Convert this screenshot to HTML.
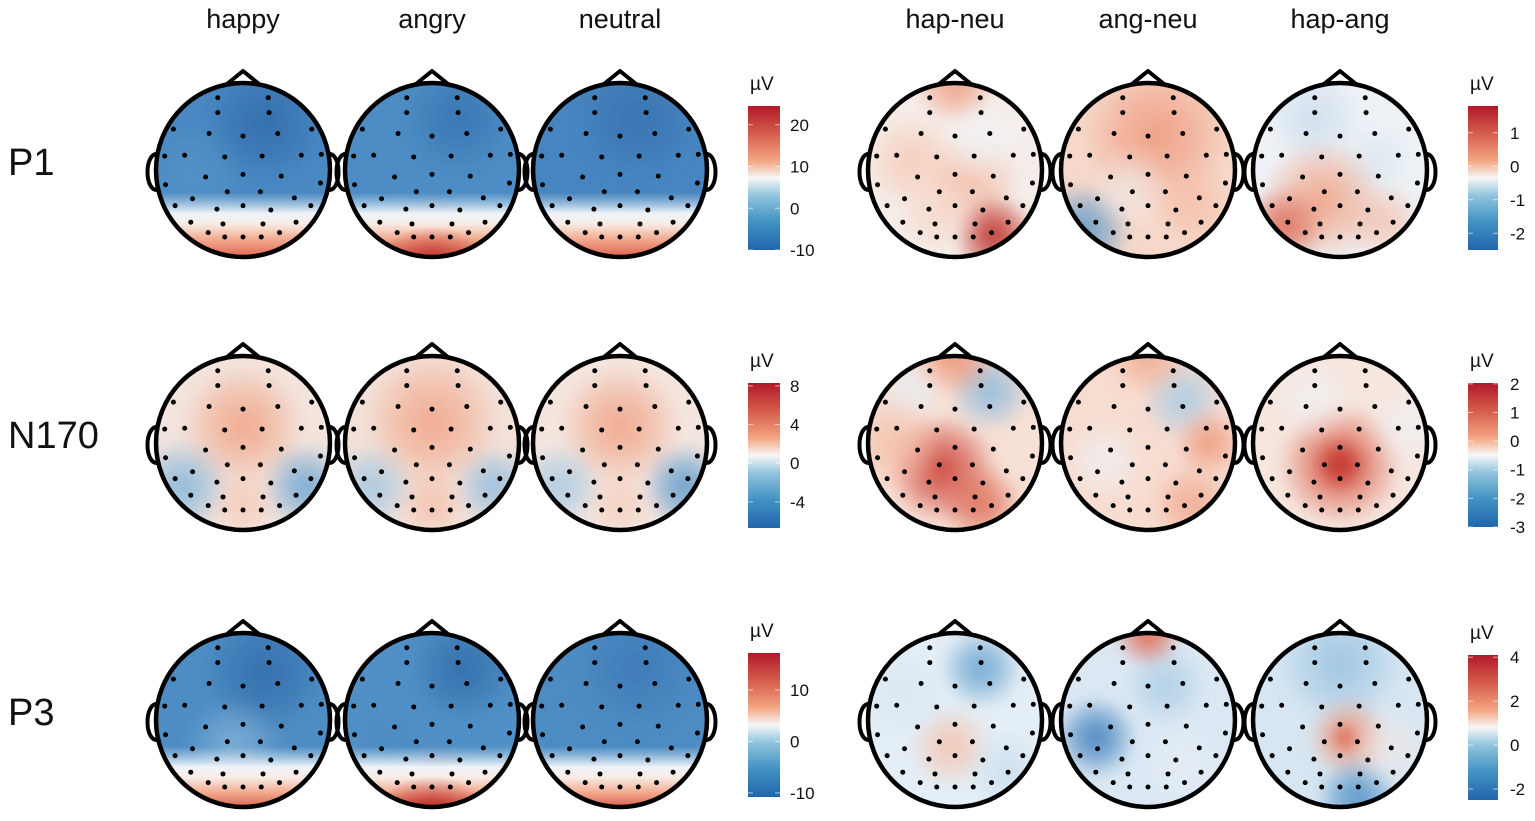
<!DOCTYPE html>
<html><head><meta charset="utf-8">
<style>
html,body{margin:0;padding:0;background:#fff;}
svg{display:block;font-family:"Liberation Sans",Arial,sans-serif;}
</style></head>
<body>
<svg id="fig" width="1535" height="821" viewBox="0 0 1535 821">
<defs>
<linearGradient id="rdbu" x1="0" y1="1" x2="0" y2="0">
<stop offset="0" stop-color="#2166ac"/><stop offset="0.2" stop-color="#4393c3"/>
<stop offset="0.38" stop-color="#92c5de"/><stop offset="0.5" stop-color="#f7f7f7"/>
<stop offset="0.62" stop-color="#f4a582"/><stop offset="0.8" stop-color="#d6604d"/>
<stop offset="1" stop-color="#b2182b"/>
</linearGradient>
<filter id="blur" x="-20%" y="-20%" width="140%" height="140%"><feGaussianBlur stdDeviation="6"/></filter>
</defs>
<g id="labels"></g>
<g id="heads"></g>
<g id="bars"></g>
</svg>
<script>
const NS="http://www.w3.org/2000/svg";
const colNames=["happy","angry","neutral","hap-neu","ang-neu","hap-ang"];
const colX=[243,432,620,955,1148,1340];
const rowNames=["P1","N170","P3"];
const rowY=[170,443,720];
const R=87;
const elecX=[-0.29,0.29,-0.29,0.30,-0.80,-0.39,0,0.40,0.79,-0.90,-0.67,-0.21,0.22,0.67,0.90,-0.43,0,0.44,-0.89,0.89,-0.18,0.20,-0.58,0.59,-0.78,0,0.78,-0.30,0.32,-0.60,-0.23,0.23,0.61,-0.40,-0.21,0,0.21,0.42];
const elecY=[-0.83,-0.83,-0.66,-0.66,-0.47,-0.42,-0.39,-0.42,-0.47,-0.16,-0.17,-0.15,-0.16,-0.17,-0.18,0.08,0.05,0.07,0.17,0.15,0.25,0.25,0.33,0.32,0.41,0.41,0.41,0.45,0.46,0.60,0.62,0.62,0.60,0.72,0.77,0.77,0.77,0.72];
const maps=[
 [ {base:"#4a88c2",band:[0.58,"#e0664f"],blobs:[[0.25,-0.55,0.45,"#2f6aa8",0.8],[-0.6,0.1,0.4,"#5b9acb",0.5]]},
   {base:"#4d8cc4",band:[0.58,"#dc5e4b"],blobs:[[0.3,-0.6,0.4,"#336fad",0.7],[0,0.95,0.35,"#c0332e",0.8]]},
   {base:"#4785c0",band:[0.58,"#de634e"],blobs:[[0.2,-0.6,0.45,"#356eab",0.7]]},
   {base:"#f5ede9",blobs:[[-0.5,-0.1,0.35,"#f6c7b2",0.8],[0.2,0.1,0.35,"#f3b39a",0.8],[0.45,0.75,0.3,"#c23a33",1],[-0.2,0.5,0.3,"#f7d1c0",0.7],[0,-1,0.3,"#ee9a7f",0.9],[0.3,-0.3,0.3,"#f0f4f8",0.8]]},
   {base:"#f6d8ca",blobs:[[0.1,-0.4,0.55,"#ef9c80",0.9],[-0.75,0.7,0.35,"#5b98c9",0.9],[0.5,0.4,0.3,"#f4b9a0",0.7],[-0.2,0.2,0.3,"#eef2f6",0.6]]},
   {base:"#eef2f6",blobs:[[-0.3,-0.6,0.35,"#c9dcec",0.8],[0.4,-0.1,0.3,"#d8e6f0",0.7],[-0.2,0.35,0.45,"#f0a285",0.9],[-0.65,0.65,0.3,"#dd6b55",0.9],[0.5,0.6,0.3,"#f3b7a0",0.7]]} ],
 [ {base:"#f3e4dd",blobs:[[0,-0.2,0.45,"#f0a587",0.9],[-0.7,0.5,0.35,"#86b6d9",0.9],[0.72,0.5,0.32,"#6ea6d2",0.9],[0,0.7,0.25,"#f6c2ab",0.7]]},
   {base:"#f3e1d8",blobs:[[0,-0.25,0.5,"#f1a689",0.9],[-0.7,0.5,0.32,"#a4c8e2",0.9],[0.72,0.5,0.3,"#94bedf",0.9],[0,0.7,0.25,"#f4b8a0",0.7]]},
   {base:"#f4e6df",blobs:[[0,-0.2,0.45,"#f0a487",0.9],[-0.7,0.5,0.32,"#a8cae3",0.9],[0.75,0.5,0.32,"#5d9acb",0.9],[0,0.7,0.25,"#f6c3ad",0.6]]},
   {base:"#f7e0d5",blobs:[[-0.15,0.3,0.4,"#cf4d42",1],[0.3,0.7,0.3,"#de6d56",0.9],[0.4,-0.6,0.3,"#8dbadd",0.9],[-0.5,-0.6,0.25,"#e7eff6",0.8],[0,-1,0.3,"#ec9173",0.9],[-0.7,0,0.35,"#f4bda5",0.8]]},
   {base:"#f7dcd0",blobs:[[0.4,-0.5,0.3,"#a9cce4",0.9],[-0.5,0.2,0.3,"#eef2f6",0.8],[0.7,0,0.25,"#ef9a7d",0.9],[0.5,0.7,0.3,"#f0a388",0.8],[0,-1,0.3,"#f0a488",0.8]]},
   {base:"#f6e6de",blobs:[[0,0.25,0.45,"#dc6652",1],[0,0.25,0.2,"#c1352f",1],[-0.3,-0.5,0.3,"#eef2f6",0.7],[0.8,-0.2,0.3,"#eef2f6",0.7]]} ],
 [ {base:"#4e8dc4",band:[0.62,"#de664f"],blobs:[[0.25,-0.55,0.45,"#2f6aa8",0.8],[-0.1,0.3,0.35,"#a9cbe3",0.5]]},
   {base:"#5090c6",band:[0.62,"#d4533f"],blobs:[[0.35,-0.6,0.4,"#2f6aa8",0.8],[0,0.95,0.35,"#b8282c",0.9],[-0.5,0.2,0.3,"#4d8ac2",0.6]]},
   {base:"#4d8bc3",band:[0.62,"#dc624d"],blobs:[[0.2,-0.6,0.45,"#3b76b3",0.7]]},
   {base:"#e4eef6",blobs:[[0.3,-0.6,0.3,"#6aa3cf",0.9],[-0.05,0.3,0.3,"#f5c3ae",0.9],[-0.6,-0.3,0.35,"#d7e6f1",0.7],[0.6,0.6,0.3,"#c5dbec",0.7]]},
   {base:"#dbe8f3",blobs:[[-0.6,0.2,0.3,"#4c88c1",1],[0.2,-0.4,0.3,"#a8cbe4",0.8],[0,-1,0.25,"#e06c56",1],[0.4,0.5,0.3,"#e8eff6",0.7]]},
   {base:"#d6e6f2",blobs:[[0,-0.65,0.45,"#9cc3e0",0.9],[0.1,0.2,0.3,"#ee987b",0.9],[0.05,0.2,0.12,"#dd6a55",1],[0.2,0.9,0.3,"#5b97c9",1],[0.6,0.3,0.3,"#f3e8e4",0.7]]} ]
];
const barX=[748,1468];
const barW=[32,30];
const barTop=[106,106,383,383,653,655];
const barBot=[250,250,528,527,797,800];
const barMin=[-10,-2.5,-6.7,-3,-10.8,-2.5];
const barMax=[24.5,1.8,8.3,2.03,17.2,4.1];
const barTicks=[[20,10,0,-10],[1,0,-1,-2],[8,4,0,-4],[2,1,0,-1,-2,-3],[10,0,-10],[4,2,0,-2]];

function el(t,a,p){const e=document.createElementNS(NS,t);for(const k in a)e.setAttribute(k,a[k]);p.appendChild(e);return e;}
const L=document.getElementById('labels'),H=document.getElementById('heads'),B=document.getElementById('bars'),D=document.querySelector('defs');

colNames.forEach((n,i)=>{const t=el('text',{x:colX[i],y:28,'font-size':27,'text-anchor':'middle',fill:'#111'},L);t.textContent=n;

});
rowNames.forEach((n,i)=>{const t=el('text',{x:8,y:rowY[i]+5,'font-size':38,fill:'#111'},L);t.textContent=n;

});

let gid=0;
maps.forEach((row,ri)=>row.forEach((m,ci)=>{
 const cx=colX[ci],cy=rowY[ri];
 const g=el('g',{},H);
 
 
 const cid='c'+(gid++);
 const cp=el('clipPath',{id:cid},D);el('circle',{cx:cx,cy:cy,r:R},cp);
 const inner=el('g',{'clip-path':'url(#'+cid+')'},g);
 el('rect',{x:cx-R-10,y:cy-R-10,width:2*R+20,height:2*R+20,fill:m.base},inner);
 const bl=el('g',{filter:'url(#blur)'},inner);
 m.blobs.forEach((b,k)=>{const rg=el('radialGradient',{id:'rg'+gid+'_'+k},D);
  el('stop',{offset:0,'stop-color':b[3],'stop-opacity':b[4]},rg);
  el('stop',{offset:0.5,'stop-color':b[3],'stop-opacity':b[4]*0.6},rg);
  el('stop',{offset:1,'stop-color':b[3],'stop-opacity':0},rg);
  el('circle',{cx:cx+b[0]*R,cy:cy+b[1]*R,r:b[2]*R*1.6,fill:'url(#rg'+gid+'_'+k+')'},bl);});
 if(m.band){const lg=el('linearGradient',{id:'lg'+gid,x1:0,y1:0,x2:0,y2:1},D);
  const s=(m.band[0]+1)/2;
  el('stop',{offset:0,'stop-color':'#cfe1ef','stop-opacity':0},lg);
  el('stop',{offset:s-0.16,'stop-color':'#cfe1ef','stop-opacity':0},lg);
  el('stop',{offset:s-0.04,'stop-color':'#eef3f8','stop-opacity':1},lg);
  el('stop',{offset:s+0.02,'stop-color':'#f8ece6','stop-opacity':1},lg);
  el('stop',{offset:s+0.1,'stop-color':'#f3b096','stop-opacity':1},lg);
  el('stop',{offset:1,'stop-color':m.band[1],'stop-opacity':1},lg);
  el('rect',{x:cx-R,y:cy-R,width:2*R,height:2*R,fill:'url(#lg'+gid+')'},inner);
  const last=m.blobs.find(b=>b[1]>0.8);
  if(last){const rg=el('radialGradient',{id:'rb'+gid},D);
   el('stop',{offset:0,'stop-color':last[3],'stop-opacity':0.8},rg);
   el('stop',{offset:1,'stop-color':last[3],'stop-opacity':0},rg);
   el('ellipse',{cx:cx+last[0]*R,cy:cy+R,rx:R*0.6,ry:R*0.35,fill:'url(#rb'+gid+')'},inner);}
 }
 el('path',{d:`M${cx-R+2},${cy-16} C${cx-R-12},${cy-18} ${cx-R-12},${cy+22} ${cx-R+2},${cy+20}`,fill:'none',stroke:'#000','stroke-width':4},g);
 el('path',{d:`M${cx+R-2},${cy-16} C${cx+R+12},${cy-18} ${cx+R+12},${cy+22} ${cx+R-2},${cy+20}`,fill:'none',stroke:'#000','stroke-width':4},g);
 el('path',{d:`M${cx-16},${cy-R+1} L${cx},${cy-R-12} L${cx+16},${cy-R+1}`,fill:'none',stroke:'#000','stroke-width':4,'stroke-linejoin':'round'},g);
 el('circle',{cx:cx,cy:cy,r:R,fill:'none',stroke:'#000','stroke-width':4.5},g);
 elecX.forEach((ex,k)=>{const d=el('circle',{cx:cx+ex*R,cy:cy+elecY[k]*R,r:2.5,fill:'#000'},g);
  
  });
}));

barTop.forEach((top,i)=>{
 const side=i%2,x=barX[side],w=barW[side],bot=barBot[i];
 const g=el('g',{},B);
 
 
 const u=el('text',{x:x+2,y:top-16,'font-size':19,fill:'#111'},g);u.textContent='µV';
 el('rect',{x:x,y:top,width:w,height:bot-top,fill:'url(#rdbu)'},g);
 const sc=v=>bot-(v-barMin[i])/(barMax[i]-barMin[i])*(bot-top);
 barTicks[i].forEach(v=>{const y=sc(v);
  el('line',{x1:x,x2:x+5,y1:y,y2:y,stroke:'#fff','stroke-width':1,opacity:0.6},g);
  el('line',{x1:x+w-5,x2:x+w,y1:y,y2:y,stroke:'#fff','stroke-width':1,opacity:0.6},g);
  const t=el('text',{x:x+w+(side?12:10),y:y+6,'font-size':17,fill:'#111'},g);t.textContent=v;
  
  });
});
</script>
</body></html>
